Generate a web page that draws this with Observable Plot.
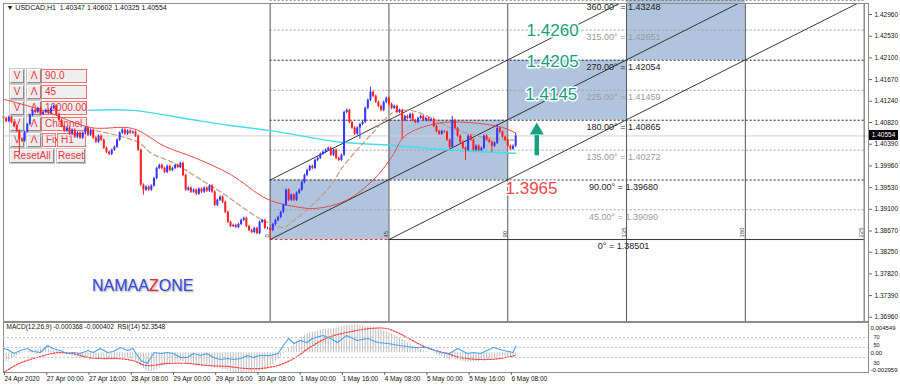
<!DOCTYPE html>
<html><head><meta charset="utf-8">
<script src="https://cdn.jsdelivr.net/npm/d3@7"></script>
<script src="https://cdn.jsdelivr.net/npm/@observablehq/plot@0.6"></script>
<style>
body{margin:0;background:#fff;font-family:"Liberation Sans",Arial,sans-serif}
#wrap{position:relative;width:900px;height:388px;overflow:hidden;background:#fff}
#wrap svg{position:absolute;left:0}
.b{position:absolute;box-sizing:border-box;height:14px;font:10px "Liberation Sans",Arial,sans-serif;line-height:12px;color:#e8383d;text-align:center;background:#ececec;border:1px solid;border-color:#fff #8a8a8a #8a8a8a #fff;box-shadow:0 0 0 1px #c8c8c8}
.bx{border:1px solid #f07070;box-shadow:none;text-align:left;padding-left:3px;background:#eeeeee}
</style></head><body><div id="wrap"></div>
<script>
// ---------------- DATA ----------------
const titleText = "\u25BC USDCAD,H1  1.40347 1.40602 1.40325 1.40554";
const firstOpen = 1.4093;
const closes = [
1.4090,1.4084,1.4092,1.4082,1.4074,1.4065,1.4049,1.4045,1.4063,1.4078,
1.4096,1.4106,1.4102,1.4110,1.4098,1.4102,1.4106,1.4100,1.4110,1.4114,
1.4098,1.4086,1.4074,1.4065,1.4071,1.4059,1.4067,1.4053,1.4061,1.4051,
1.4061,1.4071,1.4057,1.4067,1.4051,1.4043,1.4055,1.4047,1.4031,1.4023,
1.4019,1.4027,1.4033,1.4047,1.4061,1.4067,1.4059,1.4065,1.4061,1.4063,
1.4055,1.4027,1.3958,1.3948,1.3954,1.3948,1.3956,1.3971,1.3991,1.3997,
1.3991,1.3983,1.3995,1.3987,1.3991,1.3997,1.3993,1.4001,1.3977,1.3948,
1.3952,1.3944,1.3948,1.3940,1.3950,1.3944,1.3952,1.3946,1.3956,1.3944,
1.3918,1.3928,1.3934,1.3924,1.3904,1.3884,1.3876,1.3878,1.3874,1.3880,
1.3888,1.3892,1.3876,1.3868,1.3864,1.3872,1.3862,1.3884,1.3888,1.3872,
1.3872,1.3868,1.3880,1.3888,1.3894,1.3904,1.3918,1.3948,1.3928,1.3938,
1.3928,1.3942,1.3948,1.3963,1.3977,1.3987,1.3995,1.3991,1.4007,1.4011,
1.4019,1.4023,1.4027,1.4031,1.4017,1.4027,1.4011,1.4007,1.4017,1.4102,
1.4106,1.4082,1.4071,1.4059,1.4071,1.4078,1.4082,1.4110,1.4126,1.4142,
1.4134,1.4122,1.4114,1.4106,1.4122,1.4130,1.4118,1.4110,1.4114,1.4102,
1.4106,1.4086,1.4094,1.4090,1.4098,1.4086,1.4082,1.4090,1.4094,1.4086,
1.4090,1.4086,1.4088,1.4074,1.4064,1.4059,1.4064,1.4063,1.4047,1.4033,
1.4086,1.4070,1.4055,1.4043,1.4031,1.4027,1.4055,1.4047,1.4027,1.4035,
1.4027,1.4031,1.4055,1.4047,1.4043,1.4035,1.4041,1.4070,1.4063,1.4053,
1.4047,1.4035,1.4029,1.4035,1.40554];
const wick = 0.00025;
const highWicks = [[139,1.4152],[170,1.4094],[187,1.4078],[194,1.40602]];
const lowWicks = [[6,1.4021],[53,1.3938],[101,1.3850],[135,1.4049],[151,1.4049],[170,1.4031],[175,1.4007],[185,1.4023],[194,1.40325]];

const redMA = [[0,1.4128],[15,1.4106],[33,1.4072],[49,1.4070],[61,1.4035],[73,1.4011],[86,1.3979],[100,1.3930],[112,1.3914],[119,1.3912],[130,1.3928],[140,1.3968],[147,1.4013],[152,1.4055],[164,1.4080],[176,1.4082],[189,1.4072],[194,1.4061]];
const cyanMA = [[32,1.4106],[49,1.4106],[71,1.4088],[86,1.4076],[101,1.4066],[128,1.4043],[147,1.4037],[170,1.4027],[194,1.4021]];
const brownMA = [[35,1.4066],[51,1.4043],[56,1.4021],[64,1.4003],[73.5,1.3973],[83,1.3942],[95,1.3898],[100,1.3884],[106,1.3874],[109.5,1.3886],[116,1.3914],[123.5,1.3954],[128.4,1.3993],[134.8,1.4033],[139.8,1.4061],[147.7,1.4102],[154,1.4106],[161.7,1.4092],[169.3,1.4072],[181.8,1.4053],[193.2,1.4047]];

const priceTicks = [1.4296,1.4253,1.4210,1.4167,1.4124,1.4082,1.4039,1.3996,1.3953,1.3910,1.3867,1.3825,1.3782,1.3739,1.3696];
const dateTicks = [0,16,32,48,64,80,96,112,128,144,160,176,192];
const dateLabels = ["24 Apr 2020","27 Apr 00:00","27 Apr 16:00","28 Apr 08:00","29 Apr 00:00","29 Apr 16:00","30 Apr 08:00","1 May 00:00","1 May 16:00","4 May 08:00","5 May 00:00","5 May 16:00","6 May 08:00"];

const gannAngles = [0,45,90,135,180,225,270,315,360];
const gannPrices = [1.38501,1.39090,1.39680,1.40272,1.40865,1.41459,1.42054,1.42651,1.43248];
const gannStartBar = 101;
const gannStep = 45;
const gannBarLabels = ["0","45","90","135","180","225"];

const targetLabels = ["1.4260","1.4205","1.4145","1.3965"];
const targetPrices = [1.4264,1.4203,1.4137,1.3951];
const targetBars = [208,208,207.5,200];
const arrowFrom = [202,1.4017];
const arrowTo = [202,1.4076];

const macdTitle = "MACD(12,26,9) -0.000368 -0.000402  RSI(14) 52.3548";
const macdMax = 0.004549, macdMin = -0.002959;
// MACD main, units of 1e-4
const macdMain = [
-15,-13,-11,-9,-7,-5,-3,-1,1,2,
3,4,5,5,6,6,6,5,4,3,
3,2,1,0,-2,-4,-5,-6,-7,-8,
-8,-8,-9,-9,-9,-9,-9,-9,-10,-11,
-11,-11,-10,-9,-8,-8,-8,-9,-9,-10,
-11,-14,-20,-24,-27,-28,-28,-27,-25,-23,
-21,-19,-17,-16,-15,-14,-14,-13,-14,-16,
-17,-18,-19,-20,-20,-20,-21,-21,-21,-22,
-23,-23,-24,-25,-26,-28,-29,-30,-30,-30,
-30,-30,-30,-30,-30,-29,-29,-28,-27,-25,
-23,-21,-18,-14,-10,-6,-2,3,7,10,
14,17,20,23,26,28,30,31,32,33,
34,35,35,36,36,37,37,38,39,40,
41,41,42,42,42,41,41,40,40,39,
38,37,36,35,33,32,30,28,26,24,
22,20,18,15,13,11,9,7,5,3,
2,1,0,-1,-3,-5,-6,-7,-9,-11,
-9,-10,-11,-12,-13,-14,-14,-14,-14,-13,
-13,-12,-11,-10,-10,-9,-8,-7,-6,-6,
-6,-6,-6,-5,-3.7];
const macdSignal = [[0,-0.00296],[6,-0.00160],[14,-0.00056],[20,0.0000],[26,-0.00010],[32,-0.00070],[37,-0.00086],[43,-0.00086],[49,-0.00116],[54,-0.00190],[62,-0.00160],[70,-0.00160],[77,-0.00190],[85,-0.00206],[92,-0.00236],[97,-0.00236],[104,-0.00190],[110,-0.00086],[116,0.00079],[123,0.00230],[130,0.00305],[139,0.00365],[145,0.00365],[150,0.00290],[157,0.00140],[161,0.00065],[168,-0.00011],[173,-0.00070],[181,-0.00101],[188,-0.00086],[194,-0.00040]];
const rsi = [[0,48],[1.5,46],[4,38],[6.4,44],[9,48],[11,42],[14,40],[16.7,54],[18.6,48],[21.6,44],[24,38],[26.5,40],[29,38],[32,44],[34,40],[36.7,48],[39.4,40],[41.7,42],[44.3,50],[47,44],[49,48],[52,24],[54.5,18],[57,40],[59.5,38],[62,40],[64.4,38],[67,30],[69.7,30],[72,38],[74.6,34],[77,38],[79.5,30],[82,26],[85,28],[87,26],[90,28],[92.4,34],[94.7,30],[97,34],[101,34],[104,38],[106,54],[108,68],[110,58],[112.5,64],[115,60],[117,68],[121,74],[124,68],[126.5,60],[130,74],[134,64],[138,68],[141.7,60],[145.5,58],[150,54],[155,50],[160.6,50],[165.5,40],[169,38],[172,48],[175.8,38],[178,40],[180.7,38],[185.6,50],[189.4,44],[193,40],[194,52.35]];
const rsiLevels = [70,50,30];
const macdScaleLabels = ["0.004549","0.00","-0.002959"];
const macdScaleValues = [0.004549,0,-0.002959];

// ---------------- BUILD ----------------
const wrap = document.getElementById("wrap");
const btns = [
 [10,69,14,"V",""],[27,69,14,"\u039B",""],[41,69,46,"90.0","bx"],
 [10,85,14,"V",""],[27,85,14,"\u039B",""],[41,85,46,"45","bx"],
 [10,101,14,"V",""],[27,101,14,"\u039B",""],[41,101,46,"10000.00","bx"],
 [10,117,14,"V",""],[27,117,14,"\u039B",""],[41,117,46,"Channel","bx"],
 [10,133,14,"V",""],[27,133,14,"\u039B",""],[42,133,14,"Fix","bx"],[57,133,29,"H1","bx"],
 [10,149,44,"ResetAll",""],[57,149,28,"Reset",""]
];
for (const [x,y,w,t,c] of btns) {
  const d = document.createElement("div");
  d.className = "b " + c; d.style.left = x+"px"; d.style.top = y+"px"; d.style.width = w+"px";
  d.textContent = t; wrap.appendChild(d);
}

const xDomain = [0, 327.65];
const baseStyle = {background:"transparent", fontFamily:"'Liberation Sans', Arial, sans-serif", fontSize:"6.5px", color:"#111", overflow:"visible"};

const bars = closes.map((c,i)=>({i, open: i===0 ? firstOpen : closes[i-1], close: c}));
const hiMap = new Map(highWicks), loMap = new Map(lowWicks);
for (const b of bars) {
  b.high = hiMap.has(b.i) ? Math.max(hiMap.get(b.i), Math.max(b.open,b.close)) : Math.max(b.open,b.close) + wick;
  b.low = loMap.has(b.i) ? Math.min(loMap.get(b.i), Math.min(b.open,b.close)) : Math.min(b.open,b.close) - wick;
}
const up = bars.filter(b=>b.close>=b.open), dn = bars.filter(b=>b.close<b.open);
const lastClose = closes[closes.length-1];

const levels = gannAngles.map((a,k)=>({a,p:gannPrices[k],k}));
const boxes = d3.range(4).map(k=>({x1:gannStartBar+gannStep*k, x2:gannStartBar+gannStep*(k+1), y1:gannPrices[2*k], y2:gannPrices[2*k+2]}));
const verticals = d3.range(6).map(k=>gannStartBar+gannStep*k);
const gEnd = gannStartBar+gannStep*5;
const diagonals = [[gannStartBar,2],[gannStartBar,0],[gannStartBar+gannStep,0]].map(([b,k])=>({x1:b,y1:gannPrices[k],x2:b+gannStep*(8-k)/2,y2:gannPrices[8]}));
const labelBar = gannStartBar+gannStep*3;
const green = "#17a07c", red = "#f2454a";
const bull = "#3535ff", bear = "#ff1f1f";

const main = Plot.plot({
  width:900, height:322, marginLeft:3, marginRight:32, marginTop:3, marginBottom:1,
  style: baseStyle,
  x:{domain:xDomain, axis:null},
  y:{domain:[1.36877,1.43178], axis:null},
  marks:[
    Plot.rect(boxes,{x1:"x1",x2:"x2",y1:"y1",y2:"y2",fill:"#b1c4de"}),
    Plot.ruleY([lastClose],{stroke:"#d0d0d0"}),
    Plot.ruleY(levels.filter(d=>d.a>0 && d.k%2===1),{y:"p",x1:()=>gannStartBar,x2:()=>gEnd,stroke:"#a0a0a0",strokeDasharray:"2,2"}),
    Plot.ruleY(levels.filter(d=>d.a>0 && d.k%2===0),{y:"p",x1:()=>gannStartBar,x2:()=>gEnd,stroke:"#222",strokeDasharray:"2,2"}),
    Plot.ruleX(verticals,{x:d=>d,stroke:"#555"}),
    Plot.ruleY([gannPrices[0]],{x1:()=>gannStartBar,x2:()=>gannStartBar+gannStep,stroke:"#ff3030",strokeDasharray:"3,2"}),
    Plot.ruleY([gannPrices[0]],{x1:()=>gannStartBar+gannStep,x2:()=>gEnd,stroke:"#333"}),
    Plot.link(diagonals,{x1:"x1",y1:"y1",x2:"x2",y2:"y2",stroke:"#222",strokeWidth:0.9,clip:true}),
    Plot.line(cyanMA,{x:d=>d[0],y:d=>d[1],stroke:"#46dbea",strokeWidth:1.4,curve:"catmull-rom"}),
    Plot.line(brownMA,{x:d=>d[0],y:d=>d[1],stroke:"#c89a80",strokeWidth:1.2,strokeDasharray:"5,3",curve:"catmull-rom"}),
    Plot.line(redMA,{x:d=>d[0],y:d=>d[1],stroke:"#f04848",strokeWidth:1,curve:"catmull-rom"}),
    Plot.ruleX(up,{x:"i",y1:"low",y2:"high",stroke:bull,strokeWidth:1}),
    Plot.ruleX(dn,{x:"i",y1:"low",y2:"high",stroke:bear,strokeWidth:1}),
    Plot.ruleX(up,{x:"i",y1:"open",y2:"close",stroke:bull,strokeWidth:2}),
    Plot.ruleX(dn,{x:"i",y1:"open",y2:"close",stroke:bear,strokeWidth:2}),
    Plot.text(levels.filter(d=>d.k%2===0),{x:()=>labelBar,y:"p",dx:-3,dy:7,text:d=>(d.a===0?"0":d.a.toFixed(2))+"\u00B0 = "+d.p.toFixed(5),fill:"#222",fontSize:9}),
    Plot.text(levels.filter(d=>d.k%2===1),{x:()=>labelBar,y:"p",dx:-3,dy:7,text:d=>d.a.toFixed(2)+"\u00B0 = "+d.p.toFixed(5),fill:"#9a9a9a",fontSize:9}),
    Plot.text(verticals,{x:d=>d,y:()=>gannPrices[0],text:(d,i)=>gannBarLabels[i],rotate:-90,textAnchor:"start",lineAnchor:"bottom",dx:-1,dy:-2,fontSize:6,fill:"#444"}),
    Plot.text(targetLabels.slice(0,3),{x:(d,i)=>targetBars[i],y:(d,i)=>targetPrices[i],text:d=>d,fill:green,stroke:"white",strokeWidth:3,fontSize:17,ariaLabel:"targets"}),
    Plot.text(targetLabels.slice(3),{x:(d,i)=>targetBars[3+i],y:(d,i)=>targetPrices[3+i],text:d=>d,fill:red,stroke:"white",strokeWidth:3,fontSize:17,ariaLabel:"targets"}),
    Plot.link([0],{x1:()=>arrowFrom[0],y1:()=>arrowFrom[1],x2:()=>arrowTo[0],y2:()=>arrowTo[1]-0.0019,stroke:green,strokeWidth:4.5}),
    Plot.dot([0],{x:()=>arrowTo[0],y:()=>arrowTo[1]-0.001,symbol:"triangle",r:5.2,fill:green,stroke:"none"}),
    Plot.text([titleText],{frameAnchor:"top-left",dx:3,dy:2,text:d=>d,fill:"#111",fontSize:7}),
    Plot.frame({stroke:"#8c8c8c"}),
    Plot.axisY({anchor:"right",ticks:priceTicks,tickFormat:d=>d.toFixed(5),tickSize:3,tickPadding:3,fontSize:6.5,stroke:"#666"})
  ]
});
main.style.top = "0px";
wrap.appendChild(main);
d3.select(main).selectAll('g[aria-label="targets"]').style("filter","drop-shadow(1px 1px 1px rgba(0,0,0,0.45))");

const macdPlot = Plot.plot({
  width:900, height:66, marginLeft:3, marginRight:32, marginTop:0, marginBottom:16,
  style: baseStyle,
  x:{domain:xDomain, axis:null},
  y:{domain:[macdMin, macdMax], axis:null},
  marks:[
    Plot.ruleX(macdMain,{x:(d,i)=>i,y1:()=>0,y2:d=>d*1e-4,stroke:"#bdbdbd",strokeWidth:1}),
    Plot.line(macdSignal,{x:d=>d[0],y:d=>d[1],stroke:"#ff3b3b",strokeWidth:1.2,strokeDasharray:"1.5,1.5",curve:"catmull-rom"}),
    Plot.text([macdTitle],{frameAnchor:"top-left",dx:3,dy:2,text:d=>d,fill:"#111"}),
    Plot.text(macdScaleLabels,{x:()=>xDomain[1],y:(d,i)=>macdScaleValues[i],text:d=>d,dx:2,textAnchor:"start",fill:"#111",fontSize:6}),
    Plot.frame({stroke:"#8c8c8c"}),
    Plot.axisX({ticks:dateTicks,tickFormat:d=>dateLabels[dateTicks.indexOf(d)],tickSize:3,tickPadding:1,textAnchor:"start",dx:1,fontSize:6.5,stroke:"#666"})
  ]
});
macdPlot.style.top = "322px";
wrap.appendChild(macdPlot);
d3.select(macdPlot).selectAll("text").each(function(){
  const t = this.textContent;
  if (t==="0.004549") this.setAttribute("dy","0.9em");
  if (t==="-0.002959") this.setAttribute("dy","-0.4em");
});

const rsiPlot = Plot.plot({
  width:900, height:66, marginLeft:3, marginRight:32, marginTop:0, marginBottom:16,
  style: baseStyle,
  x:{domain:xDomain, axis:null},
  y:{domain:[0,100], axis:null},
  marks:[
    Plot.ruleY(rsiLevels,{stroke:"#c6c6c6",strokeDasharray:"2,2"}),
    Plot.line(rsi,{x:d=>d[0],y:d=>d[1],stroke:"#4ea3f2",strokeWidth:1.2}),
    Plot.text(rsiLevels,{x:()=>xDomain[1],y:d=>d,text:d=>String(d),dx:5,textAnchor:"start",fill:"#111",fontSize:5.5})
  ]
});
rsiPlot.style.top = "322px";
wrap.appendChild(rsiPlot);
d3.select(rsiPlot).selectAll("text").each(function(){
  if (this.textContent==="50") this.setAttribute("dy","-0.45em");
  if (this.textContent==="30") this.setAttribute("dy","1.0em");
});

const ys = main.scale("y");
const tag = document.createElement("div");
tag.textContent = lastClose.toFixed(5);
Object.assign(tag.style,{position:"absolute",left:"869px",top:(ys.apply(lastClose)-5)+"px",width:"29px",height:"10px",background:"#000",color:"#fff",font:"6.5px 'Liberation Sans',Arial",lineHeight:"10px",textAlign:"center"});
wrap.appendChild(tag);

const wm = document.createElement("div");
wm.innerHTML = 'NAMAA<span style="color:#e8262b">Z</span>ONE';
Object.assign(wm.style,{position:"absolute",left:"92px",top:"277px",font:"16px 'Liberation Sans',Arial,sans-serif",color:"#3447e0",textShadow:"1px 1px 2px rgba(0,0,0,0.4)"});
wrap.appendChild(wm);
</script></body></html>
